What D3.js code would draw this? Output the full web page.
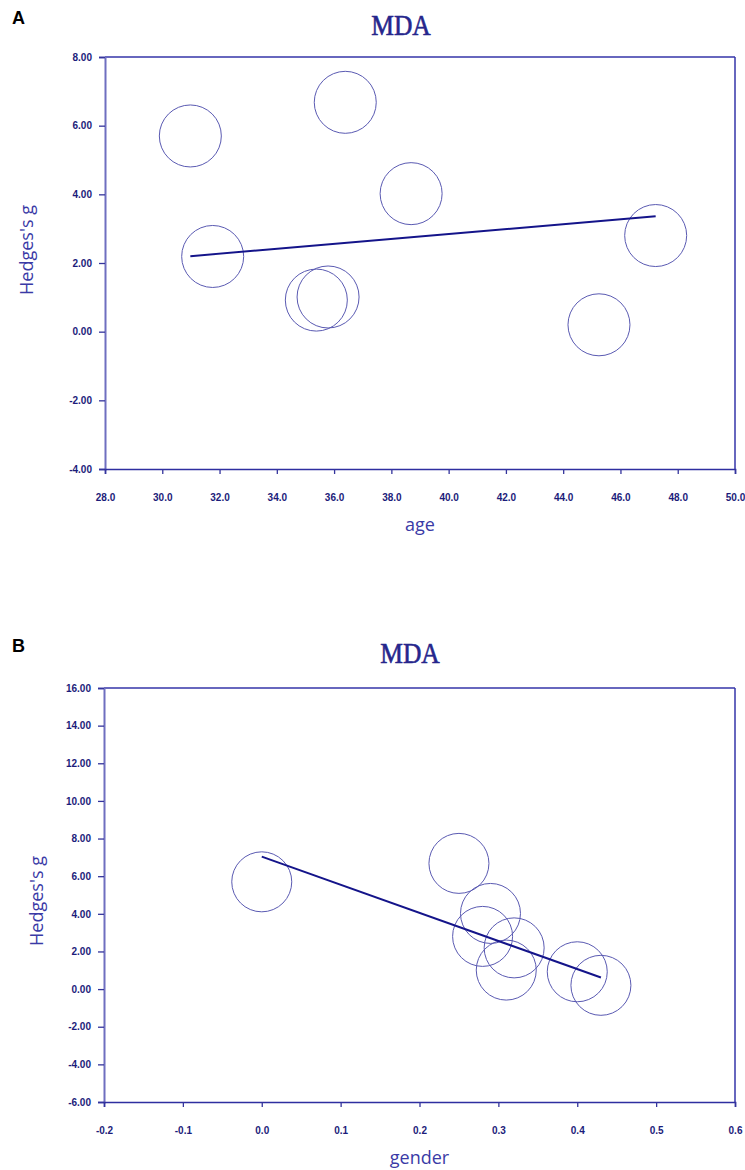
<!DOCTYPE html>
<html>
<head>
<meta charset="utf-8">
<script src="https://cdn.jsdelivr.net/npm/d3@7/dist/d3.min.js"></script>
<style>
  html, body { margin: 0; padding: 0; background: #fff; }
  svg { display: block; }
</style>
</head>
<body>
<svg id="chart" width="745" height="1170"></svg>
<script>
// ---- data ----
const hedgesG = [5.70, 6.68, 4.02, 2.80, 2.19, 1.01, 0.92, 0.20];
const studyAge = [30.98, 36.39, 38.69, 47.23, 31.76, 35.79, 35.38, 45.25];
const studyGender = [0.00, 0.25, 0.29, 0.28, 0.32, 0.31, 0.40, 0.43];
const ageTicks = [28, 30, 32, 34, 36, 38, 40, 42, 44, 46, 48, 50];
const genderTicks = [-0.2, -0.1, 0.0, 0.1, 0.2, 0.3, 0.4, 0.5, 0.6];
const gTicksA = [-4, -2, 0, 2, 4, 6, 8];
const gTicksB = [-6, -4, -2, 0, 2, 4, 6, 8, 10, 12, 14, 16];
const regAge = { intercept: -0.012, slope: 0.0714 };
const regGender = { intercept: 7.04, slope: -14.94 };

const svg = d3.select("#chart");

function panel(opt) {
  const g = svg.append("g");
  const x = d3.scaleLinear().domain(opt.xDomain).range([opt.left, opt.right]);
  const y = d3.scaleLinear().domain(opt.yDomain).range([opt.bottom, opt.top]);

  // panel letter
  g.append("text").attr("x", 12).attr("y", opt.letterY)
    .attr("font-family", "Liberation Sans, Arial, sans-serif")
    .attr("font-weight", "bold").attr("font-size", 18).attr("fill", "#000")
    .text(opt.letter);

  // title
  g.append("text").attr("x", opt.titleX).attr("y", opt.titleY)
    .attr("text-anchor", "middle")
    .attr("font-family", "Liberation Serif, Times New Roman, serif")
    .attr("font-size", 29).attr("fill", "#26268c")
    .attr("stroke", "#26268c").attr("stroke-width", 0.6)
    .attr("transform", `translate(${opt.titleX},0) scale(0.88,1) translate(${-opt.titleX},0)`)
    .text("MDA");

  // frame (top, right)
  g.append("line").attr("x1", opt.left).attr("x2", opt.right)
    .attr("y1", opt.top).attr("y2", opt.top)
    .attr("stroke", "#3434a8").attr("stroke-width", 1.5);
  g.append("line").attr("x1", opt.right).attr("x2", opt.right)
    .attr("y1", opt.top).attr("y2", opt.bottom)
    .attr("stroke", "#3434a8").attr("stroke-width", 1.5);

  // y axis
  const yAxis = d3.axisLeft(y).tickValues(opt.yTicks).tickFormat(d => d.toFixed(2))
    .tickSize(6).tickPadding(7);
  const ya = g.append("g").attr("transform", `translate(${opt.left},0)`).call(yAxis);
  ya.select(".domain").attr("stroke", "#6f6fc0").attr("stroke-width", 2);
  ya.selectAll(".tick line").attr("stroke", "#34349c").attr("stroke-width", 1.3);
  ya.selectAll(".tick text").attr("fill", "#1c1c7a")
    .attr("font-family", "Liberation Sans, Arial, sans-serif")
    .attr("font-weight", "bold").attr("font-size", 10);

  // x axis
  const xAxis = d3.axisBottom(x).tickValues(opt.xTicks).tickFormat(d => d.toFixed(1))
    .tickSize(5).tickPadding(20);
  const xa = g.append("g").attr("transform", `translate(0,${opt.bottom})`).call(xAxis);
  xa.select(".domain").attr("stroke", "#2e2ea0").attr("stroke-width", 1.6);
  xa.selectAll(".tick line").attr("stroke", "#34349c").attr("stroke-width", 1.3);
  xa.selectAll(".tick text").attr("fill", "#1c1c7a")
    .attr("font-family", "Liberation Sans, Arial, sans-serif")
    .attr("font-weight", "bold").attr("font-size", 10);

  // axis titles
  g.append("text").attr("x", (opt.left + opt.right) / 2).attr("y", opt.xTitleY)
    .attr("text-anchor", "middle")
    .attr("font-family", "Open Sans, Noto Sans, sans-serif")
    .attr("font-size", 18).attr("fill", "#3a3aa6")
    .text(opt.xTitle);
  g.append("text")
    .attr("transform", `translate(${opt.yTitleX},${opt.yTitleY}) rotate(-90)`)
    .attr("text-anchor", "middle")
    .attr("font-family", "Open Sans, Noto Sans, sans-serif")
    .attr("font-size", 18).attr("fill", "#3a3aa6")
    .text("Hedges's g");

  // circles
  g.append("g").selectAll("circle").data(opt.xs.map((v, i) => [v, hedgesG[i]]))
    .join("circle")
    .attr("cx", d => x(d[0])).attr("cy", d => y(d[1])).attr("r", opt.r)
    .attr("fill", "none").attr("stroke", "#5a5ab2").attr("stroke-width", 1);

  // regression line
  const [x0, x1] = d3.extent(opt.xs);
  g.append("line")
    .attr("x1", x(x0)).attr("y1", y(opt.reg.intercept + opt.reg.slope * x0))
    .attr("x2", x(x1)).attr("y2", y(opt.reg.intercept + opt.reg.slope * x1))
    .attr("stroke", "#14148a").attr("stroke-width", 2);
}

panel({
  letter: "A", letterY: 24, titleX: 401, titleY: 35,
  left: 105, right: 735, top: 57, bottom: 469,
  xDomain: [28, 50], yDomain: [-4, 8], xTicks: ageTicks, yTicks: gTicksA,
  xs: studyAge, reg: regAge, r: 31,
  xTitle: "age", xTitleY: 531, yTitleX: 33, yTitleY: 250
});

panel({
  letter: "B", letterY: 652, titleX: 410, titleY: 663,
  left: 104, right: 735, top: 688, bottom: 1102,
  xDomain: [-0.2, 0.6], yDomain: [-6, 16], xTicks: genderTicks, yTicks: gTicksB,
  xs: studyGender, reg: regGender, r: 30,
  xTitle: "gender", xTitleY: 1164, yTitleX: 43, yTitleY: 901
});
</script>
</body>
</html>
